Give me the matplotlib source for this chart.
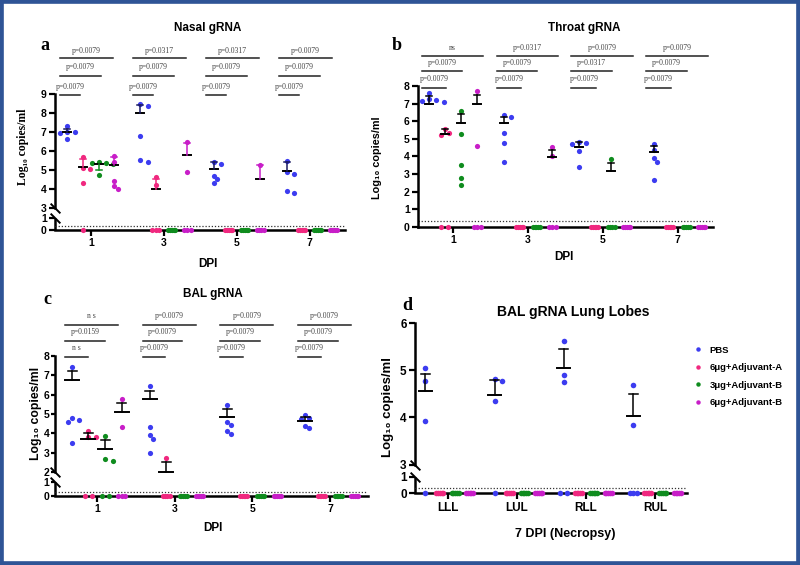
import numpy as np
import matplotlib
matplotlib.use("Agg")
import matplotlib.pyplot as plt
from matplotlib.path import Path
from matplotlib.lines import Line2D
from matplotlib.patches import Rectangle
from matplotlib.transforms import offset_copy

plt.rcParams['font.family'] = ['Liberation Sans', 'DejaVu Sans']
plt.rcParams['font.weight'] = 'bold'

groups = ['PBS', '6μg+Adjuvant-A', '3μg+Adjuvant-B', '6μg+Adjuvant-B']
colors = ['#3c3cf0', '#f0287f', '#0f8c1e', '#c81ec8']
days = ['1', '3', '5', '7']
lobes = ['LLL', 'LUL', 'RLL', 'RUL']
Z5 = [0, 0, 0, 0, 0]

# nasal gRNA, one list per DPI (0 = below detection)
nasal_pbs = [[7.3, 7.0, 7.0, 6.97, 6.63], [8.49, 8.39, 6.8, 5.54, 5.42],
             [5.44, 5.32, 4.7, 4.54, 4.33], [5.46, 4.9, 4.81, 3.9, 3.79]]
nasal_6a = [[5.68, 5.1, 5.05, 4.3, 0], [4.61, 4.23, 0, 0, 0], Z5, Z5]
nasal_3b = [[5.4, 5.38, 5.36, 5.32, 4.75], Z5, Z5, Z5]
nasal_6b = [[5.72, 5.42, 4.44, 4.18, 4.0], [6.46, 4.9, 0, 0, 0], [5.25, 0, 0, 0, 0], Z5]
nasal_mean = [[6.98, 8.02, 5.07, 4.96], [5.14, 4.02, None, None],
              [5.32, None, None, None], [5.25, 5.79, 4.54, None]]
nasal_sem = [[0.2, 0.4, 0.36, 0.46], [0.45, 0.52, 0, 0],
             [-0.32, 0, 0, 0], [0.42, 0.62, 0.7, 0]]
nasal_p = [['p=0.0079', 'p=0.0079', 'p=0.0079', 'p=0.0079'],
           ['p=0.0079', 'p=0.0079', 'p=0.0079', 'p=0.0079'],
           ['p=0.0079', 'p=0.0317', 'p=0.0317', 'p=0.0079']]

# throat gRNA
throat_pbs = [[7.58, 7.25, 7.2, 7.15, 7.1], [6.35, 6.22, 5.35, 4.74, 3.68],
              [4.83, 4.74, 4.7, 4.32, 3.37], [4.7, 4.36, 3.89, 3.7, 2.65]]
throat_6a = [[5.55, 5.31, 5.19, 0, 0], Z5, Z5, Z5]
throat_3b = [[6.6, 5.27, 3.49, 2.75, 2.35], Z5, [3.85, 0, 0, 0, 0], Z5]
throat_6b = [[7.7, 4.6, 0, 0, 0], [4.51, 4.02, 0, 0, 0], Z5, Z5]
throat_mean = [[6.95, 5.91, 4.55, 4.26], [5.27, None, None, None],
               [5.92, None, 3.18, None], [7.0, 3.94, None, None]]
throat_sem = [[0.48, 0.34, 0.28, 0.33], [0.27, 0, 0, 0],
              [0.47, 0, 0.46, 0], [0.49, 0.42, 0, 0]]
throat_p = [['p=0.0079', 'p=0.0079', 'p=0.0079', 'p=0.0079'],
            ['p=0.0079', 'p=0.0079', 'p=0.0317', 'p=0.0079'],
            ['ns', 'p=0.0317', 'p=0.0079', 'p=0.0079']]

# BAL gRNA
bal_pbs = [[7.41, 4.78, 4.69, 4.6, 3.53], [6.45, 4.34, 3.91, 3.71, 2.97],
           [5.45, 4.57, 4.43, 4.14, 3.95], [4.97, 4.78, 4.72, 4.4, 4.26]]
bal_6a = [[4.12, 3.82, 3.8, 0, 0], [2.74, 0, 0, 0, 0], Z5, Z5]
bal_3b = [[3.86, 2.69, 2.57, 0, 0], Z5, Z5, Z5]
bal_6b = [[5.79, 4.34, 0, 0, 0], Z5, Z5, Z5]
bal_mean = [[6.74, 5.76, 4.86, 4.62], [3.72, 2.02, None, None],
            [3.19, None, None, None], [5.1, None, None, None]]
bal_sem = [[0.5, 0.45, 0.38, 0.22], [0.3, 0.52, 0, 0],
           [0.46, 0, 0, 0], [0.46, 0, 0, 0]]
bal_p = [['n s', 'p=0.0079', 'p=0.0079', 'p=0.0079'],
         ['p=0.0159', 'p=0.0079', 'p=0.0079', 'p=0.0079'],
         ['n s', 'p=0.0079', 'p=0.0079', 'p=0.0079']]

# lung lobes, 7 DPI
lobe_pbs = [[5.05, 4.78, 3.92, 0], [4.81, 4.78, 4.34, 0],
            [5.61, 4.9, 4.75, 0, 0], [4.68, 3.85, 0, 0, 0]]
lobe_6a = [Z5, Z5, Z5, Z5]
lobe_3b = [Z5, Z5, Z5, Z5]
lobe_6b = [Z5, Z5, Z5, Z5]
lobe_mean = [[4.56, 4.47, 5.04, 4.04], [None] * 4, [None] * 4, [None] * 4]
lobe_sem = [[0.36, 0.33, 0.42, 0.46], [0] * 4, [0] * 4, [0] * 4]

offsets = [-0.32, -0.11, 0.11, 0.32]
W, H = 800, 565
fig = plt.figure(figsize=(8, 5.65), dpi=100)


def box(l, t, r, b):
    return [l / W, 1 - b / H, (r - l) / W, (b - t) / H]


def broken(lo_top, hi_bot, s_lo, gap, s_hi):
    a = lo_top * s_lo
    def fwd(y):
        y = np.asarray(y, float)
        return np.where(y <= lo_top, y * s_lo,
                        np.where(y < hi_bot, a + (y - lo_top) / (hi_bot - lo_top) * gap,
                                 a + gap + (y - hi_bot) * s_hi))
    def inv(v):
        v = np.asarray(v, float)
        return np.where(v <= a, v / s_lo,
                        np.where(v < a + gap, lo_top + (v - a) / gap * (hi_bot - lo_top),
                                 hi_bot + (v - a - gap) / s_hi))
    return fwd, inv


def setup(ax, xlim, ymax, yticks, ticklabels, brk=None, fs=7.5, ylen=4, ypad=2):
    if brk:
        ax.set_yscale('function', functions=broken(*brk))
    ax.set_xlim(xlim)
    ax.set_ylim(0, ymax)
    ax.set_yticks(yticks)
    ax.set_yticklabels([str(t) for t in yticks])
    ax.set_xticks(range(4))
    ax.set_xticklabels(ticklabels)
    ax.spines[['top', 'right']].set_visible(False)
    ax.spines['left'].set_linewidth(1.8)
    ax.spines['bottom'].set_linewidth(1.8)
    ax.tick_params(width=1.6, length=4, labelsize=fs, pad=2)
    ax.tick_params(axis='y', length=ylen, pad=ypad)
    if brk:
        lo_top, hi_bot = brk[0], brk[1]
        ax.spines['left'].set_bounds(hi_bot, ymax)
        tr = ax.get_yaxis_transform()
        ax.plot([0, 0], [0, lo_top], transform=tr, color='k', lw=1.8,
                clip_on=False, solid_capstyle='butt')
        slash = Path([(-1, 1), (1, -1)], [Path.MOVETO, Path.LINETO])
        ax.plot([0, 0], [hi_bot, lo_top], ls='none', marker=slash, ms=7, mew=1.4,
                mec='k', transform=tr, clip_on=False)
    ax.axhline(0.3, color='#333333', ls=(0, (1, 1.5)), lw=0.9)


def draw(ax, series, means, sems, mhalf, chalf, vcols, ms=14):
    p0 = ax.transData.transform((0, 0))
    ppu = ax.transData.transform((1, 0))[0] - p0[0]
    step, dmin, span = 3.6, 4.4, 7.0
    cands = [0.0] + [s * j * step for j in range(1, 8) for s in (1, -1)]
    for g, by_day in enumerate(series):
        for d, vals in enumerate(by_day):
            xc = d + offsets[g]
            vals = np.asarray(vals, float)
            xs = np.zeros(len(vals))
            zero = vals == 0
            if zero.sum() > 1:
                xs[zero] = np.linspace(-span / 2, span / 2, zero.sum())
            ypx = ax.transData.transform(np.column_stack([np.zeros(len(vals)), vals]))[:, 1]
            placed = []
            for i in np.where(~zero)[0]:
                for c in cands:
                    if all(np.hypot(c - px, ypx[i] - py) >= dmin for px, py in placed):
                        break
                xs[i] = c
                placed.append((c, ypx[i]))
            ax.scatter(xc + xs / ppu, vals, s=ms, color=colors[g], lw=0,
                       zorder=4, clip_on=False)
            m = means[g][d]
            if m is not None:
                e = sems[g][d]
                hm, hc = mhalf / ppu, chalf / ppu
                ax.plot([xc - hm, xc + hm], [m, m], color='k', lw=1.4, zorder=5)
                ax.plot([xc, xc], [m, m + e], color=vcols[g], lw=1.1, zorder=5)
                ax.plot([xc - hc, xc + hc], [m + e, m + e], color=vcols[g], lw=1.1, zorder=5)


def brackets(ax, labels, start, ends, line_dy, text_dy):
    base = ax.get_xaxis_transform()
    for d in range(4):
        for r in range(3):
            x0, x1 = d + start, d + ends[r]
            ax.plot([x0, x1], [1, 1], color='#222222', lw=1.1, clip_on=False,
                    transform=offset_copy(base, fig=fig, y=line_dy[r], units='dots'))
            ax.text((x0 + x1) / 2, 1, labels[r][d], ha='center', va='center',
                    fontsize=5.5, family=['Liberation Serif', 'DejaVu Serif'],
                    weight='normal', color='#444444',
                    transform=offset_copy(base, fig=fig, y=text_dy[r], units='dots'))


black = ['k'] * 4

# a: nasal
ax_a = fig.add_axes(box(55, 94, 345, 230))
setup(ax_a, (-0.49, 3.48), 9, [0, 1, 3, 4, 5, 6, 7, 8, 9], days, brk=(1, 3, 12, 10, 19))
draw(ax_a, [nasal_pbs, nasal_6a, nasal_3b, nasal_6b], nasal_mean, nasal_sem, 4, 3,
     ['#1a1a60', colors[1], colors[2], colors[3]])
brackets(ax_a, nasal_p, -0.42, [-0.15, 0.14, 0.3], [-1, 18, 36], [7, 27, 43])

# b: throat
ax_b = fig.add_axes(box(418, 86, 713, 226.7))
setup(ax_b, (-0.47, 3.47), 8, list(range(9)), days)
draw(ax_b, [throat_pbs, throat_6a, throat_3b, throat_6b], throat_mean, throat_sem, 4, 3, black)
brackets(ax_b, throat_p, -0.42, [-0.09, 0.12, 0.4], [-1.5, 15.5, 30.5], [7, 23.5, 38.5])

# c: BAL
ax_c = fig.add_axes(box(55, 356, 368, 496))
setup(ax_c, (-0.54, 3.49), 8, [0, 1, 2, 3, 4, 5, 6, 7, 8], days, brk=(1, 2, 14.3, 9.5, 19.3),
      ylen=3, ypad=1)
draw(ax_c, [bal_pbs, bal_6a, bal_3b, bal_6b], bal_mean, bal_sem, 7, 4.5, black)
brackets(ax_c, bal_p, -0.41, [-0.12, 0.1, 0.27], [-0.5, 15, 31.5], [7.5, 23.5, 40])

# d: lung lobes
ax_d = fig.add_axes(box(415, 323, 687, 493.3))
setup(ax_d, (-0.47, 3.46), 6, [0, 1, 3, 4, 5, 6], lobes, brk=(1, 3, 16.7, 11.7, 47), fs=8.5)
draw(ax_d, [lobe_pbs, lobe_6a, lobe_3b, lobe_6b], lobe_mean, lobe_sem, 6.5, 4.5, black, ms=16)

# titles, labels, panel letters
def ftext(x, y, s, **kw):
    fig.text(x / W, 1 - y / H, s, ha='center', va='center', **kw)

ftext(208, 28, 'Nasal gRNA', fontsize=8.5)
ftext(584, 28, 'Throat gRNA', fontsize=8.5)
ftext(213, 294, 'BAL gRNA', fontsize=8.5)
ftext(573, 312, 'BAL gRNA Lung Lobes', fontsize=10)
ftext(208, 264, 'DPI', fontsize=8.5)
ftext(564, 257, 'DPI', fontsize=8.5)
ftext(213, 528, 'DPI', fontsize=8.5)
ftext(565, 534, '7 DPI (Necropsy)', fontsize=9)
serif = ['Liberation Serif', 'DejaVu Serif']
for x, y, s in [(45, 45, 'a'), (397, 46, 'b'), (47, 300, 'c'), (407, 305, 'd')]:
    ftext(x, y, s, fontsize=13, family=serif)
ftext(23, 147, 'Log₁₀ copies/ml', fontsize=8.5, rotation=90, family=serif)
ftext(377, 158, 'Log₁₀ copies/ml', fontsize=7.8, rotation=90)
ftext(36, 413, 'Log₁₀ copies/ml', fontsize=8.8, rotation=90)
ftext(388, 407, 'Log₁₀ copies/ml', fontsize=9.5, rotation=90)

handles = [Line2D([], [], ls='none', marker='o', ms=3.2, mew=0, color=c) for c in colors]
fig.legend(handles, groups, loc='upper left', bbox_to_anchor=(690 / W, 1 - 342 / H),
           frameon=False, prop={'size': 6.8, 'weight': 'bold'}, handlelength=0.8,
           handletextpad=0.9, labelspacing=0.9, borderaxespad=0)

fig.patches.append(Rectangle((0, 0), 1, 1, transform=fig.transFigure, fill=False,
                             lw=5.5, ec='#2f5496'))

fig.savefig('out.png', dpi=100)
